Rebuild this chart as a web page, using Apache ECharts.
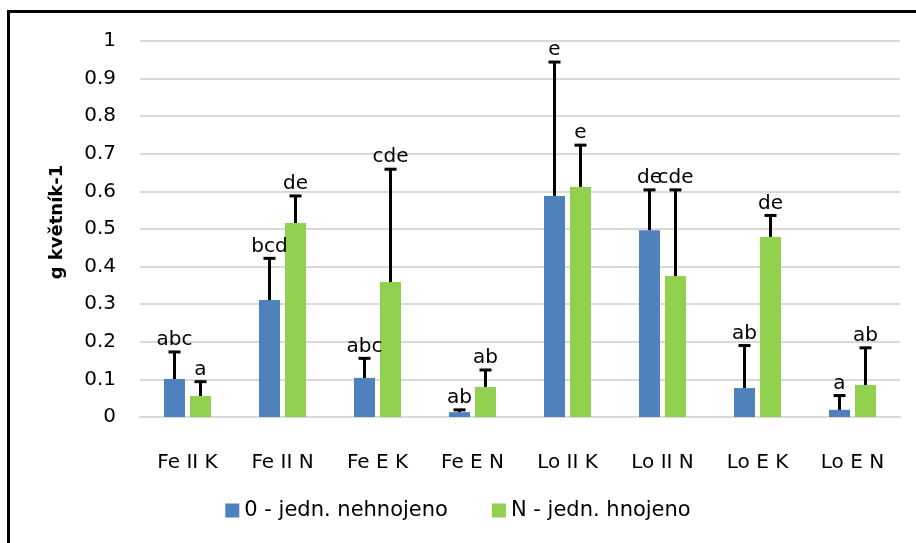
<!DOCTYPE html>
<html>
<head>
<meta charset="utf-8">
<script src="https://cdn.jsdelivr.net/npm/echarts@6/dist/echarts.min.js"></script>
<style>
  html, body { margin: 0; padding: 0; background: #fff; }
  #chart { width: 916px; height: 543px; }
</style>
</head>
<body>
<div id="chart"></div>
<script>
const categories = ["Fe II K", "Fe II N", "Fe E K", "Fe E N", "Lo II K", "Lo II N", "Lo E K", "Lo E N"];
const yTicks = [0, 0.1, 0.2, 0.3, 0.4, 0.5, 0.6, 0.7, 0.8, 0.9, 1];

const seriesNames = ["0 - jedn. nehnojeno", "N - jedn. hnojeno"];
const meanBlue = [0.101, 0.311, 0.104, 0.013, 0.588, 0.497, 0.077, 0.019];
const meanGreen = [0.056, 0.516, 0.359, 0.080, 0.612, 0.375, 0.479, 0.085];
const sdBlue = [0.072, 0.111, 0.052, 0.006, 0.356, 0.107, 0.113, 0.038];
const sdGreen = [0.038, 0.072, 0.300, 0.045, 0.111, 0.229, 0.057, 0.099];
const lettersBlue = ["abc", "bcd", "abc", "ab", "e", "de", "ab", "a"];
const lettersGreen = ["a", "de", "cde", "ab", "e", "cde", "de", "ab"];

const BAR_W = 21;
const BAR_GAP = 5;
const FONT = "DejaVu Sans";

// error bar + letter drawn over a bar, shifted to that bar's slot
function errorBar(offset, means, sds, letters) {
  return (params, api) => {
    const i = params.dataIndex;
    const base = api.coord([i, means[i]]);
    const top = api.coord([i, means[i] + sds[i]]);
    const x = base[0] + offset;
    return {
      type: "group",
      children: [
        { type: "line", shape: { x1: x, y1: base[1], x2: x, y2: top[1] }, style: { stroke: "#000", lineWidth: 3 } },
        { type: "line", shape: { x1: x - 6, y1: top[1], x2: x + 6, y2: top[1] }, style: { stroke: "#000", lineWidth: 3 } },
        {
          type: "text",
          x: x,
          y: top[1] - 2,
          style: {
            text: letters[i],
            align: "center",
            verticalAlign: "bottom",
            textAlign: "center",
            textVerticalAlign: "bottom",
            font: "20px " + FONT,
            fill: "#000",
          },
        },
      ],
    };
  };
}

const chart = echarts.init(document.getElementById("chart"), null, { renderer: "canvas" });
const off = (BAR_W + BAR_GAP) / 2;

chart.setOption({
  backgroundColor: "#fff",
  animation: false,
  graphic: [
    {
      type: "rect",
      shape: { x: 8.5, y: 11.5, width: 1000, height: 1000 },
      style: { fill: "none", stroke: "#000", lineWidth: 3 },
      silent: true,
    },
  ],
  grid: { left: 140, right: 16, top: 41, bottom: 126 },
  legend: {
    top: 495,
    left: "center",
    icon: "rect",
    itemWidth: 14,
    itemHeight: 14,
    itemGap: 44,
    data: seriesNames,
    textStyle: { fontFamily: FONT, fontSize: 21, color: "#000" },
  },
  xAxis: {
    type: "category",
    data: categories,
    axisLine: { lineStyle: { color: "#d9d9d9", width: 2 } },
    axisTick: { show: false },
    axisLabel: { color: "#000", fontSize: 20, fontFamily: FONT, margin: 36 },
  },
  yAxis: {
    type: "value",
    min: 0,
    max: 1,
    interval: 0.1,
    name: "g květník-1",
    nameLocation: "middle",
    nameGap: 74,
    nameRotate: 90,
    nameTextStyle: { fontFamily: FONT, fontSize: 18, fontWeight: "bold", color: "#000", padding: [0, 0, 0, 14] },
    axisLine: { show: false },
    axisTick: { show: false },
    splitLine: { lineStyle: { color: "#d9d9d9", width: 2 } },
    axisLabel: {
      color: "#000",
      fontSize: 20,
      fontFamily: FONT,
      margin: 24,
      formatter: (v) => (yTicks.includes(Math.round(v * 10) / 10) ? String(Math.round(v * 10) / 10) : ""),
    },
  },
  series: [
    {
      name: seriesNames[0],
      type: "bar",
      data: meanBlue,
      barWidth: BAR_W,
      barGap: (BAR_GAP / BAR_W * 100).toFixed(1) + "%",
      itemStyle: { color: "#4f81bd" },
    },
    {
      name: seriesNames[1],
      type: "bar",
      data: meanGreen,
      barWidth: BAR_W,
      itemStyle: { color: "#92d050" },
    },
    {
      type: "custom",
      renderItem: errorBar(-off, meanBlue, sdBlue, lettersBlue),
      data: meanBlue.map((m, i) => [i, m + sdBlue[i]]),
      z: 10,
      silent: true,
    },
    {
      type: "custom",
      renderItem: errorBar(off, meanGreen, sdGreen, lettersGreen),
      data: meanGreen.map((m, i) => [i, m + sdGreen[i]]),
      z: 10,
      silent: true,
    },
  ],
});
</script>
</body>
</html>
